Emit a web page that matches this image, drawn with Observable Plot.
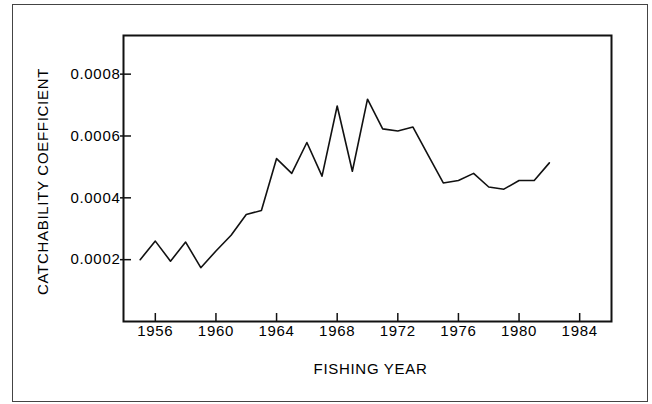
<!DOCTYPE html>
<html>
<head>
<meta charset="utf-8">
<script src="https://cdn.jsdelivr.net/npm/d3@7"></script>
<script src="https://cdn.jsdelivr.net/npm/@observablehq/plot@0.6"></script>
<style>
  html, body { margin: 0; padding: 0; background: #fff; }
  #wrap { position: relative; width: 652px; height: 404px; overflow: hidden; }
  #wrap svg { position: absolute; left: 0; top: 0; }
  #border { position: absolute; left: 12px; top: 4px; width: 634px; height: 396px; border: 1.5px solid #444; }
</style>
</head>
<body>
<div id="wrap"><div id="border"></div></div>
<script>
const years = [1955, 1956, 1957, 1958, 1959, 1960, 1961, 1962, 1963, 1964,
               1965, 1966, 1967, 1968, 1969, 1970, 1971, 1972, 1973, 1974,
               1975, 1976, 1977, 1978, 1979, 1980, 1981, 1982];
const catchability = [0.000200, 0.000260, 0.000195, 0.000257, 0.000174, 0.000228, 0.000279, 0.000346, 0.000359, 0.000527,
                      0.000479, 0.000579, 0.000470, 0.000697, 0.000486, 0.000719, 0.000623, 0.000616, 0.000629, 0.000538,
                      0.000448, 0.000456, 0.000479, 0.000435, 0.000428, 0.000456, 0.000456, 0.000513];
const xTicks = [1956, 1960, 1964, 1968, 1972, 1976, 1980, 1984];
const yTicks = [0.0002, 0.0004, 0.0006, 0.0008];
const xLabel = "FISHING YEAR";
const yLabel = "CATCHABILITY COEFFICIENT";

const data = years.map((y, i) => ({year: y, q: catchability[i]}));

const chart = Plot.plot({
  width: 652,
  height: 404,
  marginLeft: 123,
  marginRight: 41,
  marginTop: 35,
  marginBottom: 83,
  style: {fontFamily: "'Liberation Sans', Arial, sans-serif", fontSize: "15px", color: "#000", background: "transparent", letterSpacing: "0.7px"},
  x: {domain: [1953.9, 1986.1], ticks: xTicks, tickFormat: d => String(d), tickSize: 0, tickPadding: 4, label: null},
  y: {domain: [0, 0.000925], ticks: yTicks, tickFormat: d => d.toFixed(4), tickSize: 0, tickPadding: 3, label: null},
  marks: [
    Plot.frame({stroke: "#111", strokeWidth: 2}),
    Plot.ruleX(xTicks, {x: d => d, insetTop: 278, stroke: "#111", strokeWidth: 1.5}),
    Plot.ruleY(yTicks, {y: d => d, insetLeft: -3, insetRight: 480, stroke: "#111", strokeWidth: 1.5}),
    Plot.line(data, {x: "year", y: "q", stroke: "#111", strokeWidth: 1.6}),
    Plot.text([xLabel], {frameAnchor: "bottom", dy: 52, dx: 3, fontSize: 15, fill: "#000"}),
    Plot.text([yLabel], {frameAnchor: "left", textAnchor: "middle", rotate: -90, dx: -80, dy: 3, fontSize: 15, fill: "#000"})
  ]
});
document.getElementById("wrap").prepend(chart);
</script>
</body>
</html>
